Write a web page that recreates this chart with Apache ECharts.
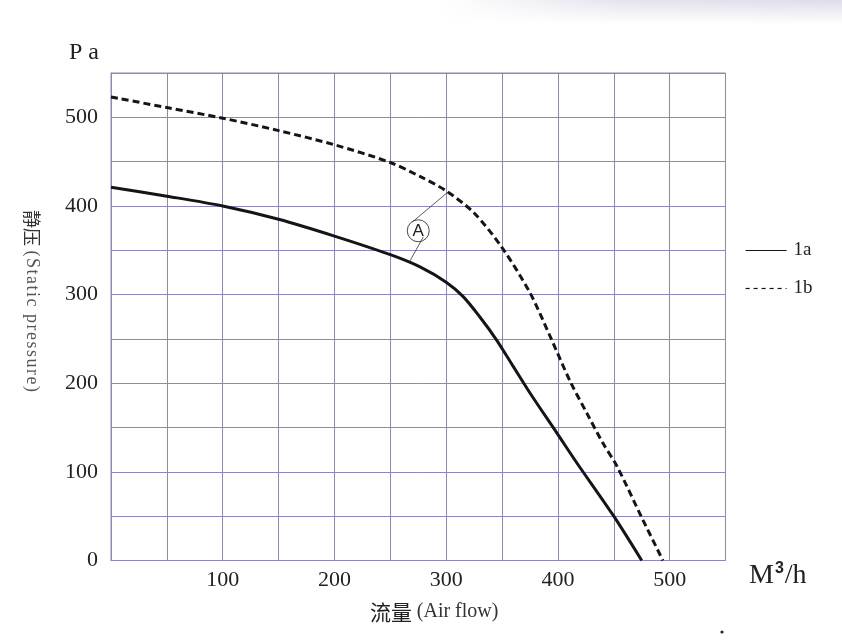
<!DOCTYPE html>
<html>
<head>
<meta charset="utf-8">
<script src="https://cdn.jsdelivr.net/npm/echarts@6/dist/echarts.min.js"></script>
<style>
html,body{margin:0;padding:0;background:#fff;}
#c{width:842px;height:643px;}
</style>
</head>
<body>
<div id="c"></div>
<script>
// Data (airflow M3/h, static pressure Pa)
var flow1a = [0, 50, 100, 150, 200, 250, 277, 300, 315, 330, 345, 360, 375, 399, 417, 450, 475];
var pres1a = [421, 411, 400, 385, 366, 345, 331, 314, 298, 275, 249, 219, 189, 144, 110, 50, 0];
var flow1b = [0, 50, 100, 150, 200, 250, 277, 300, 325, 350, 375, 393, 411, 426, 440, 453, 476, 494];
var pres1b = [523, 511, 499, 485, 469, 449, 433, 417, 392, 353, 302, 253, 202, 166, 133, 106, 46, 0];
var seriesNames = ['1a', '1b'];
var xTicks = [100, 200, 300, 400, 500];
var yTicks = [0, 100, 200, 300, 400, 500];
// Annotation "A" (data units)
var calloutCenter = [275, 372];
var calloutLeaders = [[[269.8, 382], [301.9, 416]], [[279.5, 365], [267.6, 338]]];

function pairs(xs, ys) { return xs.map(function (x, i) { return [x, ys[i]]; }); }

var gridColor = '#8f86bb';
var serif = "'Liberation Serif','Times New Roman',serif";
var cjk = "'Noto Sans CJK SC',sans-serif";
var hs = '\u200A';
var latinTitle = '(Static pressure)'.split('').join(hs);
var chart = echarts.init(document.getElementById('c'), null, {renderer: 'canvas'});
chart.setOption({
  backgroundColor: '#fff',
  animation: false,
  grid: {left: 111, top: 73, width: 614.5, height: 487.5, show: true, borderColor: gridColor, borderWidth: 1, containLabel: false},
  xAxis: {
    type: 'value', min: 0, max: 550, interval: 50,
    axisLine: {show: true, lineStyle: {color: gridColor, width: 1}},
    axisTick: {show: false},
    splitLine: {show: true, lineStyle: {color: gridColor, width: 1}},
    axisLabel: {
      margin: 9, color: '#222', fontSize: 22, fontFamily: serif,
      formatter: function (v) { return xTicks.indexOf(v) >= 0 ? String(v) : ''; }
    },
    name: '流量 {s|(Air flow)}', nameLocation: 'middle', nameGap: 41,
    nameTextStyle: {color: '#222', fontSize: 21, fontFamily: cjk, padding: [0, 0, 0, 32],
      rich: {s: {fontSize: 20, color: '#333', fontFamily: serif}}}
  },
  yAxis: {
    type: 'value', min: 0, max: 550, interval: 50,
    axisLine: {show: true, lineStyle: {color: gridColor, width: 1}},
    axisTick: {show: false},
    splitLine: {show: true, lineStyle: {color: gridColor, width: 1}},
    axisLabel: {
      margin: 13, color: '#222', fontSize: 22, fontFamily: serif,
      formatter: function (v) { return yTicks.indexOf(v) >= 0 ? String(v) : ''; }
    }
  },
  legend: {
    data: [{name: seriesNames[0]}, {name: seriesNames[1], lineStyle: {type: [4, 4]}}],
    orient: 'vertical', left: 740, top: 236,
    itemWidth: 41, itemHeight: 22, itemGap: 19,
    itemStyle: {opacity: 0, borderWidth: 0},
    lineStyle: {width: 1.2},
    textStyle: {color: '#222', fontSize: 19, fontFamily: serif, padding: [0, 0, 0, 2]}
  },
  graphic: [
    {type: 'rect', shape: {x: 440, y: 0, width: 402, height: 24}, silent: true, z: -2,
      style: {fill: new echarts.graphic.LinearGradient(0, 0, 0, 1, [{offset: 0, color: '#dedce8'}, {offset: 1, color: '#ffffff'}])}},
    {type: 'rect', shape: {x: 440, y: 0, width: 402, height: 24}, silent: true, z: -1,
      style: {fill: new echarts.graphic.LinearGradient(0, 0, 1, 0, [{offset: 0, color: 'rgba(255,255,255,1)'}, {offset: 0.45, color: 'rgba(255,255,255,0.2)'}, {offset: 1, color: 'rgba(255,255,255,0)'}])}},
    {type: 'text', left: 69, top: 41, style: {text: 'P a', fontSize: 24, fontFamily: serif, fill: '#222'}},
    {type: 'text', left: 749, top: 561, style: {text: 'M{s|3}/h', fontSize: 28, fontFamily: serif, fill: '#222',
      rich: {s: {fontSize: 16, fontWeight: 'bold', fontFamily: "'Liberation Sans',sans-serif", verticalAlign: 'top', padding: [0, 1, 14, 1], fill: '#222'}}}},
    {type: 'text', x: 32, y: 301, rotation: -Math.PI / 2,
      style: {text: '静压{s| ' + latinTitle + '}', fontSize: 18, fontFamily: cjk, fill: '#333',
        align: 'center', verticalAlign: 'middle',
        rich: {s: {fontSize: 18, fill: '#555', fontFamily: serif}}}},
    {type: 'circle', shape: {cx: 722, cy: 632, r: 1.6}, style: {fill: '#222'}}
  ],
  series: [
    {
      name: seriesNames[0], type: 'line', data: pairs(flow1a, pres1a), smooth: 0.3,
      symbol: 'none', lineStyle: {color: '#151515', width: 3, type: 'solid'}, itemStyle: {color: '#151515'},
      markLine: {silent: true, symbol: 'none', label: {show: false},
        lineStyle: {color: '#333', width: 0.8, type: 'solid'},
        data: calloutLeaders.map(function (l) { return [{coord: l[0]}, {coord: l[1]}]; })},
      markPoint: {silent: true, symbol: 'circle', symbolSize: 22,
        itemStyle: {color: 'rgba(255,255,255,0)', borderColor: '#333', borderWidth: 0.9},
        label: {show: true, formatter: 'A', color: '#222', fontSize: 17, fontFamily: "'Liberation Sans Narrow','Liberation Sans',sans-serif", offset: [0, 1]},
        data: [{coord: calloutCenter}]}
    },
    {
      name: seriesNames[1], type: 'line', data: pairs(flow1b, pres1b), smooth: 0.3,
      symbol: 'none', lineStyle: {color: '#151515', width: 3, type: [7, 4]}, itemStyle: {color: '#151515'}
    }
  ]
});
</script>
</body>
</html>
